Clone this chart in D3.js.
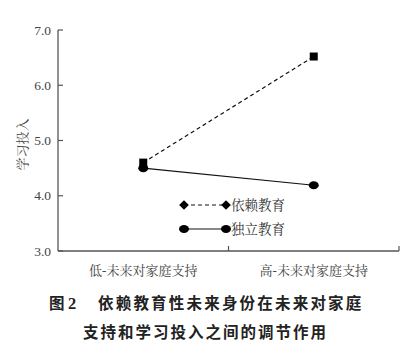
<!DOCTYPE html>
<html><head><meta charset="utf-8">
<script src="https://cdn.jsdelivr.net/npm/d3@7"></script>
<style>
body{margin:0;background:#fff;}
svg{display:block;}
</style></head>
<body><svg id="c" width="415" height="352"></svg>
<script>
const categories = ["低-未来对家庭支持", "高-未来对家庭支持"];
const seriesNames = ["依赖教育", "独立教育"];
const dependentValues = [4.6, 6.52];
const independentValues = [4.5, 4.19];
const yTicks = [3.0, 4.0, 5.0, 6.0, 7.0];
const yLabel = "学习投入";
const titleLine1 = "依赖教育性未来身份在未来对家庭";
const titleLine2 = "支持和学习投入之间的调节作用";

(function(){
const svg = d3.select("#c");
const pLeft = 58, pRight = 399, pTop = 30, pBottom = 251;
const serif = "'Liberation Serif','Noto Serif CJK SC','Noto Sans CJK SC',serif";

const x = d3.scaleBand().domain(categories).range([pLeft, pRight]);
const y = d3.scaleLinear().domain([3, 7]).range([pBottom, pTop]);

const axisColor = "#555";
svg.append("line").attr("x1", pLeft).attr("x2", pLeft).attr("y1", pTop).attr("y2", pBottom)
  .attr("stroke", axisColor).attr("stroke-width", 1.3);
svg.append("line").attr("x1", pLeft).attr("x2", pRight).attr("y1", pBottom).attr("y2", pBottom)
  .attr("stroke", axisColor).attr("stroke-width", 1.3);

yTicks.forEach(t => {
  svg.append("line").attr("x1", pLeft).attr("x2", pLeft + 5).attr("y1", y(t)).attr("y2", y(t))
    .attr("stroke", axisColor).attr("stroke-width", 1.2);
  svg.append("text").attr("x", pLeft - 7).attr("y", y(t)).attr("dy", "0.35em")
    .attr("text-anchor", "end").attr("font-family", serif).attr("font-size", 13.5)
    .attr("fill", "#444").text(t.toFixed(1));
});
[x(categories[1]), pRight].forEach(px => {
  svg.append("line").attr("x1", px).attr("x2", px).attr("y1", pBottom).attr("y2", pBottom - 5)
    .attr("stroke", axisColor).attr("stroke-width", 1.2);
});
categories.forEach(c => {
  svg.append("text").attr("x", x(c) + x.bandwidth() / 2).attr("y", 270).attr("dy", "0.35em")
    .attr("text-anchor", "middle").attr("font-family", serif).attr("font-size", 13)
    .attr("fill", "#444").text(c);
});
svg.append("text").attr("transform", `translate(22,${(pTop + pBottom) / 2 + 4}) rotate(-90)`)
  .attr("text-anchor", "middle").attr("dy", "0.35em").attr("font-family", serif)
  .attr("font-size", 13).attr("fill", "#444").text(yLabel);

const cx = c => x(c) + x.bandwidth() / 2;

const line = d3.line().x(d => cx(d.c)).y(d => y(d.v));
const depData = categories.map((c, i) => ({c, v: dependentValues[i]}));
const indData = categories.map((c, i) => ({c, v: independentValues[i]}));
svg.append("path").attr("d", line(depData)).attr("fill", "none").attr("stroke", "#111")
  .attr("stroke-width", 1.2).attr("stroke-dasharray", "4,3");
svg.append("path").attr("d", line(indData)).attr("fill", "none").attr("stroke", "#111")
  .attr("stroke-width", 1.2);

indData.forEach(d => {
  svg.append("ellipse").attr("cx", cx(d.c)).attr("cy", y(d.v)).attr("rx", 5).attr("ry", 4)
    .attr("fill", "#000");
});
depData.forEach(d => {
  svg.append("rect").attr("x", cx(d.c) - 4).attr("y", y(d.v) - 4).attr("width", 8).attr("height", 8)
    .attr("fill", "#000");
});

const legY = [205, 229];
const lx1 = 184, lx2 = 226;
svg.append("line").attr("x1", lx1).attr("x2", lx2).attr("y1", legY[0]).attr("y2", legY[0])
  .attr("stroke", "#111").attr("stroke-width", 1.2).attr("stroke-dasharray", "4,3");
[lx1, lx2].forEach(px => {
  svg.append("path").attr("d", d3.symbol(d3.symbolDiamond2, 60)())
    .attr("transform", `translate(${px},${legY[0]})`).attr("fill", "#000");
});
svg.append("line").attr("x1", lx1).attr("x2", lx2).attr("y1", legY[1]).attr("y2", legY[1])
  .attr("stroke", "#111").attr("stroke-width", 1.2);
[lx1, lx2].forEach(px => {
  svg.append("ellipse").attr("cx", px).attr("cy", legY[1]).attr("rx", 5).attr("ry", 4).attr("fill", "#000");
});
seriesNames.forEach((n, i) => {
  svg.append("text").attr("x", 231).attr("y", legY[i]).attr("dy", "0.35em")
    .attr("font-family", serif).attr("font-size", 13.5).attr("fill", "#333").text(n);
});

const tf = "'Noto Sans CJK SC',sans-serif";
const t1 = svg.append("text").attr("y", 304).attr("dy", "0.35em").attr("font-family", tf)
  .attr("font-size", 15.5).attr("font-weight", 600).attr("fill", "#222");
t1.append("tspan").attr("x", 49).text("图 ");
t1.append("tspan").attr("font-family", "'Liberation Serif',serif").attr("font-weight", "bold")
  .attr("font-size", 16.5).text("2");
t1.append("tspan").attr("x", 98).attr("letter-spacing", 2.2).text(titleLine1);
svg.append("text").attr("x", 83).attr("y", 333).attr("dy", "0.35em").attr("font-family", tf)
  .attr("font-size", 15.5).attr("font-weight", 600).attr("fill", "#222")
  .attr("letter-spacing", 2.0).text(titleLine2);
})();
</script></body></html>
